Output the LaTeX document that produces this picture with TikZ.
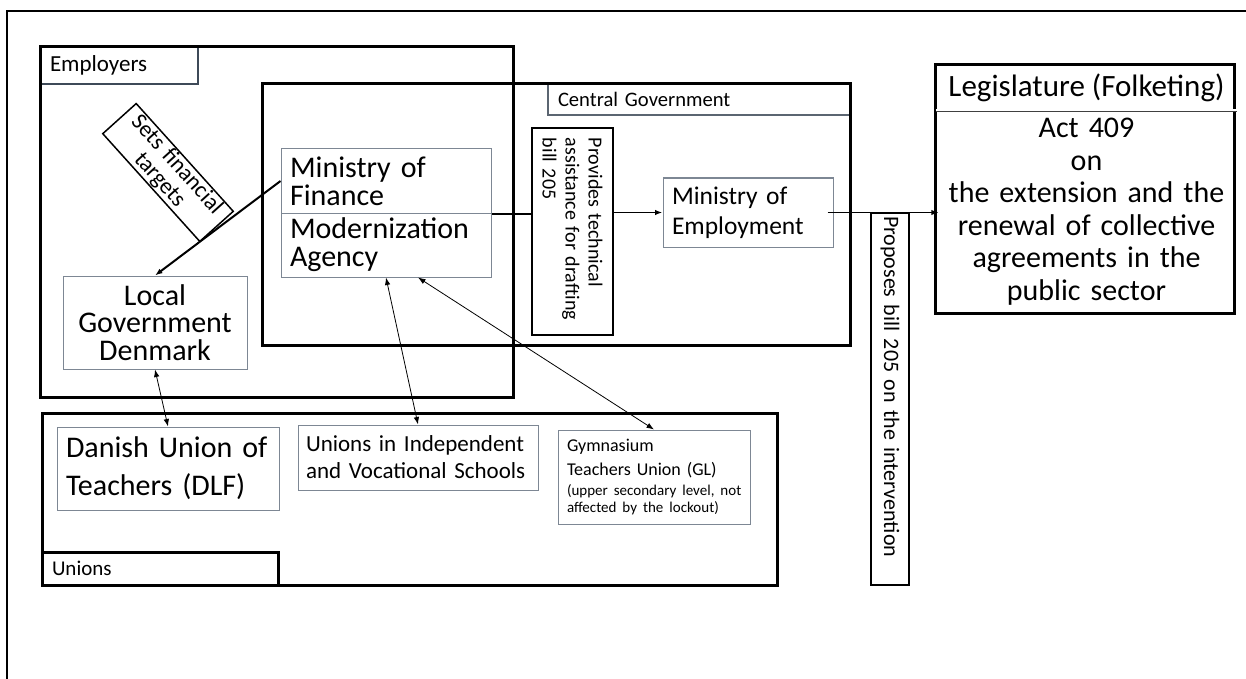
\documentclass[tikz,border=0pt]{standalone}
\usepackage{fontspec}
\setmainfont{Carlito}
\usetikzlibrary{arrows.meta}
\definecolor{boxline}{RGB}{125,135,148}
\definecolor{tagline}{RGB}{62,74,88}
\tikzset{group frame/.style={draw=black,line width=3pt}}
\tikzset{group tag/.style={draw=tagline,line width=2.5pt,inner xsep=10pt,inner ysep=0pt,align=left}}
\tikzset{actor/.style={draw=boxline,line width=1pt,inner xsep=9pt,inner ysep=0pt}}
\tikzset{action/.style={draw=black,line width=1.5pt,inner xsep=6pt,inner ysep=0pt}}
\def\fs#1#2{\fontsize{#1}{#2}\selectfont}

\begin{document}
\begin{tikzpicture}[x=1pt,y=-1pt,>={Latex[length=7.5pt,width=5.5pt]}]
      \useasboundingbox (0,0) rectangle (1246,679);

      %outer frame
      \draw[line width=1.8pt] (7,11) rectangle (1270,700);

      %Employers
      \node[group tag, text width=138pt, minimum height=37pt, font=\fs{23}{27}] (emptag) at (119,65.5) {Employers};
      \draw[group frame] (40,47) rectangle (513,397);

      %Central Government
      \node[group tag, draw=tagline!85, text width=282pt, minimum height=31pt, font=\fs{20.6}{24}] (cgtag) at (699,99.5) {Central Government};
      \draw[group frame] (262,84) rectangle (850,345);

      %Unions
      \node[group tag, draw=black, line width=3pt, text width=216pt, minimum height=33pt, font=\fs{21}{25}] (untag) at (160,568.5) {Unions};
      \draw[group frame] (42,413) rectangle (777,585);

      %ministries
      \node[actor, text width=192pt, minimum height=64pt, align=left, font=\fs{30}{28}] (mof) at (386,181) {Ministry of\\Finance};
      \node[actor, text width=192pt, minimum height=64pt, align=left, font=\fs{30}{28}] (mda) at (386,245) {Modernization\\Agency};
      \node[actor, text width=152pt, minimum height=69pt, align=left, font=\fs{25.5}{30}] (moe) at (748,212.5) {Ministry of\\Employment};
      \node[actor, text width=166pt, minimum height=93pt, align=center, font=\fs{30}{27.5}] (lgd) at (155,322.5) {Local\\Government\\Denmark};

      %Legislature
      \node[inner sep=0pt, minimum width=301pt, minimum height=45pt, font=\fs{31}{32}] (leghead) at (1086.5,87.5) {Legislature (Folketing)};
      \node[inner sep=0pt, text width=295pt, minimum height=203pt, align=center, font=\fs{30}{32.5}] (legbody) at (1086.5,211.5) {Act 409\\on\\the extension and the\\renewal of collective\\agreements in the\\public sector};
      \draw[line width=3pt] (leghead.north west) rectangle (legbody.south east);
      \draw[double, double distance=2pt, line width=0.6pt, draw=black!75] (leghead.south west) -- (leghead.south east);

      %unions
      \node[actor, text width=204pt, minimum height=83pt, align=left, font=\fs{30}{38}] (dlf) at (168,468.5) {Danish Union of\\Teachers (DLF)};
      \node[actor, inner xsep=8pt, text width=224pt, minimum height=65pt, align=left, font=\fs{23}{27}] (uis) at (418,457.5) {\mbox{Unions in Independent}\\\mbox{and Vocational Schools}};
      \node[actor, text width=174pt, minimum height=94pt, align=left, font=\fs{18}{24}] (gtu) at (654,477) {Gymnasium\\Teachers Union (GL)\\[-4pt]{\fs{15}{18}\mbox{(upper secondary level, not}}\\[-7pt]{\fs{15}{18}affected by the lockout)}};

      %labels on the arrows
      \node[action, rotate=-48, text width=133pt, minimum height=45pt, align=center, font=\fs{23}{23}] (sets) at (168,172.5) {Sets financial\\targets};
      \node[action, line width=2pt, rotate=-90, text width=187pt, minimum height=81pt, inner xsep=10pt, align=left, font=\fs{20}{23}] (prov) at (572.5,231.5) {Provides technical\\assistance for drafting\\bill 205};
      \node[action, rotate=-90, text width=366pt, minimum height=38pt, inner xsep=3pt, align=left, font=\fs{22}{26}] (prop) at (890,399) {Proposes bill 205 on the intervention};

      %arrows
      \draw[->, line width=2pt] (mof.west) -- (lgd.north);
      \draw[line width=2pt] (mof.south east) -- (mof.south east -| prov.south);
      \draw[->, line width=1.5pt] (moe.west -| prov.north) -- (moe.west);
      \draw[->, line width=1.5pt] ([xshift=-6pt]moe.east) -- (moe.east -| legbody.west);
      \draw[<->, line width=0.8pt] (lgd.south) -- (dlf.north);
      \draw[<->, line width=0.8pt] (mda.south) -- (uis.north);
      \draw[<->, line width=0.8pt] ([xshift=32pt]mda.south) -- (gtu.north);

    \end{tikzpicture}
\end{document}
